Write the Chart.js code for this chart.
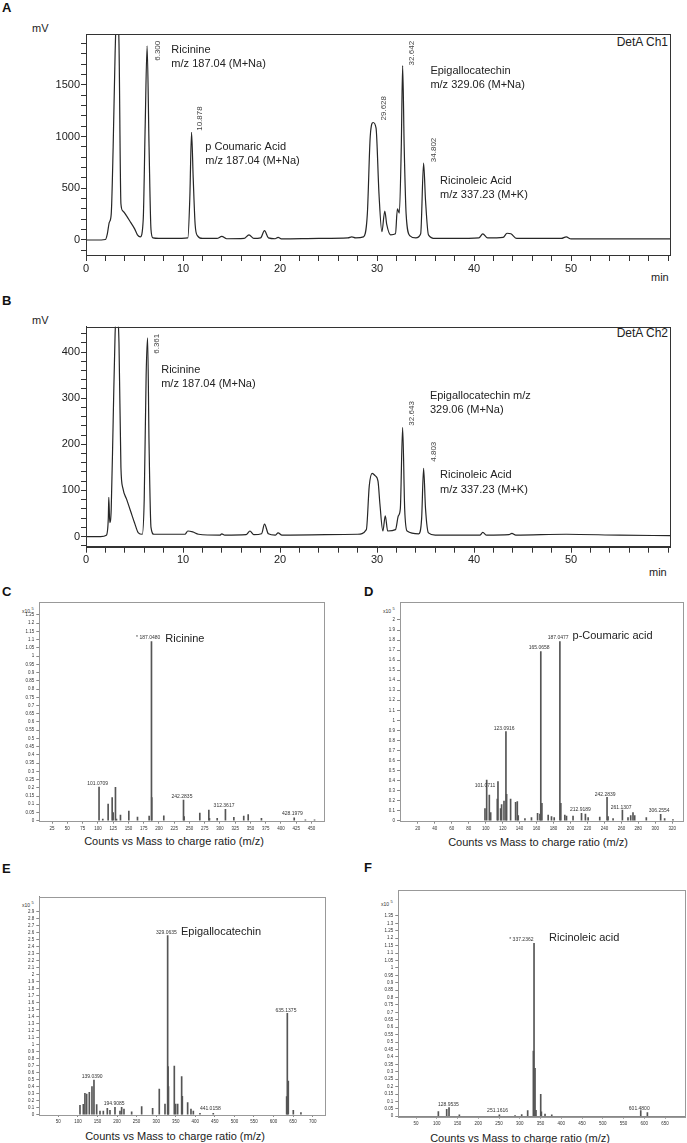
<!DOCTYPE html>
<html>
<head>
<meta charset="utf-8">
<script src="https://cdn.jsdelivr.net/npm/chart.js@4.4.1/dist/chart.umd.min.js"></script>
<style>
body { margin: 0; background: #fff; width: 687px; height: 1143px; position: relative; overflow: hidden;
  font-family: "Liberation Sans", Arial, sans-serif; color: #222; }
.box { position: absolute; }
.t { position: absolute; white-space: nowrap; line-height: 1; }
.lt { font-size: 13px; font-weight: bold; color: #111; }
.ax { font-size: 11px; }
.cap { font-size: 11px; width: 200px; text-align: center; }
.x10 { font-size: 5px; color: #333; }
.x10 sup { font-size: 4px; }
</style>
</head>
<body>

<div class="t lt" style="left:2px;top:1px">A</div>
<div class="t lt" style="left:2px;top:294px">B</div>
<div class="t lt" style="left:2px;top:585px">C</div>
<div class="t lt" style="left:364px;top:585px">D</div>
<div class="t lt" style="left:2px;top:862px">E</div>
<div class="t lt" style="left:364px;top:861px">F</div>

<div class="t ax" style="left:32px;top:23px">mV</div>
<div class="t ax" style="left:651px;top:272px">min</div>
<div class="t" style="right:19px;top:36px;font-size:12px">DetA Ch1</div>
<div class="t ax" style="left:32px;top:315px">mV</div>
<div class="t ax" style="left:649px;top:567px">min</div>
<div class="t" style="right:19px;top:327px;font-size:12px">DetA Ch2</div>

<div class="t x10" style="left:22px;top:607px">x10 <sup>5</sup></div>
<div class="t x10" style="left:383px;top:607px">x10 <sup>5</sup></div>
<div class="t x10" style="left:22px;top:901px">x10 <sup>5</sup></div>
<div class="t x10" style="left:381px;top:900px">x10 <sup>5</sup></div>

<div class="t cap" style="left:74px;top:836px">Counts vs Mass to charge ratio (m/z)</div>
<div class="t cap" style="left:438px;top:837px">Counts vs Mass to charge ratio (m/z)</div>
<div class="t cap" style="left:75px;top:1131px">Counts vs Mass to charge ratio (m/z)</div>
<div class="t cap" style="left:420px;top:1133px">Counts vs Mass to charge ratio (m/z)</div>

<div class="box" style="left:0;top:20px;width:687px;height:275px"><canvas id="chromA"></canvas></div>
<div class="box" style="left:0;top:312px;width:687px;height:275px"><canvas id="chromB"></canvas></div>
<div class="box" style="left:0;top:596px;width:340px;height:240px"><canvas id="msC"></canvas></div>
<div class="box" style="left:345px;top:596px;width:342px;height:240px"><canvas id="msD"></canvas></div>
<div class="box" style="left:0;top:885px;width:340px;height:244px"><canvas id="msE"></canvas></div>
<div class="box" style="left:345px;top:880px;width:342px;height:249px"><canvas id="msF"></canvas></div>

<script>
// ---- chromatogram A (DetA Ch1): retention time (min) / signal (mV)
var timeA = [0, 1.0, 2.0, 2.2, 2.4, 2.6, 2.8, 3.0, 3.2, 3.4, 3.6, 3.8, 4.2, 4.6, 5.0, 5.3, 5.6, 5.9, 6.1, 6.3, 6.5, 6.7, 6.9,
  7.5, 9, 10.5, 10.7, 10.88, 11.05, 11.25, 11.5, 12, 13.5, 14, 14.5, 16.3, 16.8, 17.3, 18.0, 18.4, 18.8, 19.5, 19.8, 20.2,
  24, 27.0, 27.4, 27.8, 28.6, 29.0, 29.3, 29.6, 29.9, 30.2, 30.5, 30.8, 31.0, 31.4, 31.9, 32.1, 32.3, 32.5, 32.64, 32.8,
  33.0, 33.4, 34.0, 34.5, 34.8, 35.0, 35.3, 36, 38, 40.5, 40.9, 41.4, 43.0, 43.4, 43.8, 44.4, 49.0, 49.5, 50.0, 55, 60.2];
var mvA = [0, 0, 5, 60, 170, 250, 900, 1800, 2300, 1900, 350, 280, 230, 170, 110, 50, 30, 200, 1100, 1875, 900, 100, 20,
  15, 15, 20, 400, 1040, 600, 150, 40, 15, 15, 35, 12, 15, 50, 15, 20, 90, 20, 12, 25, 10,
  15, 20, 30, 20, 30, 250, 1000, 1135, 1080, 450, 80, 280, 150, 50, 60, 300, 260, 900, 1685, 900,
  250, 40, 20, 60, 742, 380, 50, 15, 15, 20, 60, 20, 25, 65, 60, 15, 15, 30, 10, 10, 10];

// ---- chromatogram B (DetA Ch2)
var timeB = [0, 1.5, 2.1, 2.3, 2.35, 2.45, 2.6, 2.8, 3.0, 3.2, 3.4, 3.6, 3.8, 4.2, 4.6, 5.0, 5.4, 5.8, 6.0, 6.2, 6.35, 6.5,
  6.7, 7.0, 10.2, 10.5, 11.0, 11.6, 13.8, 14.0, 14.3, 16.5, 16.9, 17.3, 18.1, 18.4, 18.8, 19.5, 19.8, 20.2, 28.0, 28.9,
  29.2, 29.5, 29.8, 30.1, 30.3, 30.6, 30.85, 31.1, 31.9, 32.2, 32.4, 32.64, 32.85, 33.1, 34.3, 34.6, 34.8, 35.0, 35.3,
  36, 40.6, 40.9, 41.3, 43.6, 43.9, 44.3, 49.5, 55, 60.2];
var mvB = [0, 0, 3, 40, 85, 30, 60, 250, 440, 480, 420, 150, 105, 80, 55, 30, 8, 5, 80, 350, 431, 200,
  20, 5, 5, 12, 10, 5, 3, 6, 3, 4, 12, 4, 6, 27, 6, 3, 8, 3, 5, 15,
  110, 137, 132, 120, 70, 12, 45, 12, 15, 45, 60, 237, 60, 12, 6, 40, 148, 60, 8,
  3, 3, 9, 3, 4, 7, 3, 5, 3, 2];

// compound notes: name, second line, time, mV ; retention labels: text, time, mV
var compA = [['Ricinine', 'm/z 187.04 (M+Na)', 8.8, 1837], ['p Coumaric Acid', 'm/z 187.04 (M+Na)', 12.3, 902],
  ['Epigallocatechin', 'm/z 329.06 (M+Na)', 35.5, 1634], ['Ricinoleic Acid', 'm/z 337.23 (M+K)', 36.5, 573]];
var rtA = [['6.300', 7.43, 1828], ['10.878', 11.75, 1173], ['29.628', 30.68, 1273], ['32.642', 33.63, 1805], ['34.802', 35.84, 870]];
var compB = [['Ricinine', 'm/z 187.04 (M+Na)', 7.75, 362], ['Epigallocatechin m/z', '329.06 (M+Na)', 35.45, 305],
  ['Ricinoleic Acid', 'm/z 337.23 (M+K)', 36.5, 133.5]];
var rtB = [['6.361', 7.33, 418], ['32.643', 33.63, 267], ['4.803', 35.84, 184]];

// ---- mass spectra (m/z, counts x10^5)
var mzC = [101.9, 108, 116.8, 123.4, 125, 128.8, 130.5, 137, 150.7, 164.9, 184, 187.8, 188.3, 208, 240.3, 241.3, 267,
  281.8, 282.8, 295.5, 309, 322.8, 339, 346.3, 368, 421.7, 440, 455];
var intC = [0.205, 0.01, 0.101, 0.14, 0.05, 0.203, 0.01, 0.034, 0.059, 0.022, 0.028, 1.088, 0.14, 0.03, 0.126, 0.025, 0.047,
  0.065, 0.015, 0.014, 0.069, 0.02, 0.028, 0.038, 0.014, 0.018, 0.005, 0.005];
var labC = [['101.0709', 99.6, 0.225], ['* 187.0480', 182.4, 1.114], ['242.2835', 237.8, 0.146], ['312.3617', 306.7, 0.089], ['428.1979', 418.7, 0.041]];
var nameC = ['Ricinine', 210.5, 1.102];

var mzD = [99.2, 101.2, 104.3, 105.9, 113.7, 114.5, 117.6, 118.8, 121.6, 123.9, 124.7, 129.4, 135.3, 137.3, 138.4, 146.3,
  154, 161.2, 164, 165, 166.3, 173.7, 177.6, 180.8, 187.5, 188.6, 193.3, 195.3, 203, 213, 217.6, 220.8, 234.5, 243.1,
  244.3, 250.2, 261.2, 267.8, 271, 273.7, 275.7, 289.4, 306.3, 311, 320.8];
var intD = [0.12, 0.405, 0.256, 0.08, 0.216, 0.389, 0.12, 0.16, 0.196, 0.887, 0.262, 0.216, 0.183, 0.19, 0.05, 0.02,
  0.03, 0.073, 0.066, 1.684, 0.173, 0.056, 0.04, 0.03, 1.784, 0.173, 0.056, 0.045, 0.045, 0.073, 0.066, 0.03, 0.035, 0.232,
  0.04, 0.02, 0.106, 0.03, 0.05, 0.08, 0.05, 0.03, 0.063, 0.02, 0.01];
var labD = [['101.0711', 99.2, 0.346], ['123.0916', 121.8, 0.92], ['165.0658', 163.1, 1.728], ['187.0477', 185.5, 1.824],
  ['212.9189', 211.6, 0.106], ['242.2839', 240.8, 0.262], ['261.1307', 259.8, 0.133], ['306.2554', 304.5, 0.096]];
var nameD = ['p-Coumaric acid', 202.4, 1.84];

var mzE = [105.4, 113.9, 118, 122.4, 129.2, 136, 141.1, 148, 156.5, 165, 175.2, 182, 194.8, 207.6, 211.8, 217.8, 237.4,
  263, 291, 308, 322.6, 329.4, 330.5, 331.5, 346.4, 349.8, 355, 365.2, 366.9, 380.5, 389, 395, 412, 446, 633.5, 635.2,
  637.7, 650.5, 670];
var intE = [0.133, 0.148, 0.305, 0.295, 0.319, 0.4, 0.495, 0.143, 0.05, 0.05, 0.09, 0.06, 0.105, 0.05, 0.105, 0.08, 0.04,
  0.114, 0.09, 0.367, 0.15, 2.557, 0.686, 0.4, 0.695, 0.15, 0.15, 0.543, 0.26, 0.171, 0.08, 0.05, 0.02, 0.02, 0.257, 1.448,
  0.48, 0.06, 0.03];
var labE = [['139.0390', 136.5, 0.543], ['194.9085', 192.7, 0.157], ['329.0635', 326, 2.605], ['441.0158', 438.4, 0.086], ['635.1375', 631.8, 1.486]];
var nameE = ['Epigallocatechin', 363.5, 2.605];

var mzF = [103.8, 123.9, 129.5, 154.4, 250.8, 288.6, 304.6, 319, 332.7, 334.3, 336.7, 339, 350.4, 352, 360.8, 377, 591.4, 607.4];
var intF = [0.031, 0.047, 0.058, 0.01, 0.01, 0.005, 0.012, 0.038, 0.44, 1.166, 0.323, 0.04, 0.148, 0.03, 0.015, 0.01, 0.038, 0.025];
var labF = [['128.9535', 127.9, 0.076], ['251.1616', 246.4, 0.038], ['* 337.2362', 303.8, 1.188], ['601.4800', 587.8, 0.054]];
var nameF = ['Ricinoleic acid', 370.5, 1.2];

var FAM = '"Liberation Sans", Arial, sans-serif';
Chart.defaults.font.family = FAM;
Chart.defaults.color = '#222';
Chart.defaults.animation = false;

function steps(a, b, s) {
  var out = [], n = Math.round((b - a) / s);
  for (var i = 0; i <= n; i++) out.push({value: Math.round((a + i * s) * 1000) / 1000});
  return out;
}

function framePlugin(color) {
  return {
    id: 'frame',
    afterDraw: function(chart) {
      var a = chart.chartArea, ctx = chart.ctx;
      ctx.save();
      ctx.strokeStyle = color;
      ctx.lineWidth = 1;
      ctx.strokeRect(Math.round(a.left) + 0.5, Math.round(a.top) + 0.5, Math.round(a.right - a.left), Math.round(a.bottom - a.top));
      ctx.restore();
    }
  };
}

function notesPlugin(items) {
  return {
    id: 'notes',
    afterDatasetsDraw: function(chart) {
      var ctx = chart.ctx, xs = chart.scales.x, ys = chart.scales.y;
      items.forEach(function(n) {
        ctx.save();
        ctx.font = n.font;
        ctx.fillStyle = n.color || '#222';
        ctx.textAlign = n.align || 'left';
        ctx.textBaseline = 'middle';
        ctx.translate(xs.getPixelForValue(n.x), ys.getPixelForValue(n.y));
        if (n.rot) ctx.rotate(-Math.PI / 2);
        n.lines.forEach(function(s, i) { ctx.fillText(s, 0, i * (n.lh || 0)); });
        ctx.restore();
      });
    }
  };
}

function chromNotes(comp, rt) {
  var out = comp.map(function(c) {
    return {x: c[2], y: c[3], lines: [c[0], c[1]], font: '11px ' + FAM, lh: 14.5};
  });
  rt.forEach(function(r) {
    out.push({x: r[1], y: r[2], lines: [r[0]], font: '8px ' + FAM, rot: true, align: 'center', color: '#444'});
  });
  return out;
}

function chromChart(id, t, v, o) {
  var pts = t.map(function(x, i) { return {x: x, y: v[i]}; });
  new Chart(document.getElementById(id), {
    type: 'line',
    data: {datasets: [{data: pts, borderColor: '#262626', borderWidth: 1.2, pointRadius: 0, cubicInterpolationMode: 'monotone'}]},
    options: {
      responsive: true, maintainAspectRatio: false,
      layout: {padding: {top: o.padTop, right: 17, left: 0, bottom: 0}},
      plugins: {legend: {display: false}, tooltip: {enabled: false}},
      scales: {
        x: {
          type: 'linear', min: 0, max: 60.2,
          afterBuildTicks: function(s) { s.ticks = steps(0, 60, 2); },
          afterFit: function(s) { s.height = o.xH; },
          grid: {drawOnChartArea: false, tickLength: 6, color: '#333'},
          border: {color: '#333'},
          ticks: {autoSkip: false, maxRotation: 0, padding: 1, font: {size: 11}, color: '#222',
            callback: function(val) { return (val % 10 === 0 && val < 60) ? val : ''; }}
        },
        y: {
          min: o.ymin, max: o.ymax,
          afterBuildTicks: function(s) { s.ticks = steps(o.t0, o.t1, o.minor); },
          afterFit: function(s) { s.width = 86; },
          grid: {drawOnChartArea: false, tickLength: 5, color: '#333'},
          border: {color: '#333'},
          ticks: {autoSkip: false, padding: 1, font: {size: 11}, color: '#222',
            callback: function(val) { return val % o.major === 0 ? val : ''; }}
        }
      }
    },
    plugins: [framePlugin('#333'), notesPlugin(o.notes)]
  });
}

function msNotes(lab, name) {
  var out = lab.map(function(l) {
    return {x: l[1], y: l[2], lines: [l[0]], font: '5px ' + FAM, align: 'center', color: '#333'};
  });
  out.push({x: name[1], y: name[2], lines: [name[0]], font: '11px ' + FAM, color: '#222'});
  return out;
}

function msChart(id, mz, inten, o) {
  var pts = mz.map(function(m, i) { return {x: m, y: inten[i]}; });
  new Chart(document.getElementById(id), {
    type: 'bar',
    data: {datasets: [{data: pts, backgroundColor: '#555', barThickness: 1, grouped: false}]},
    options: {
      responsive: true, maintainAspectRatio: false,
      layout: {padding: {top: o.padTop, right: o.padRight, left: 0, bottom: 0}},
      plugins: {legend: {display: false}, tooltip: {enabled: false}},
      scales: {
        x: {
          type: 'linear', offset: false, min: o.xmin, max: o.xmax,
          afterBuildTicks: function(s) { s.ticks = steps(o.xt0, o.xt1, o.xs); },
          afterFit: function(s) { s.height = o.xH; },
          grid: {offset: false, drawOnChartArea: false, tickLength: 2, color: '#888'},
          border: {color: '#888'},
          ticks: {autoSkip: false, maxRotation: 0, padding: 2, font: {size: 4.5}, color: '#333'}
        },
        y: {
          min: o.ymin, max: o.ymax,
          afterBuildTicks: function(s) { s.ticks = steps(0, o.yt1, o.ys); },
          afterFit: function(s) { s.width = o.yW; },
          grid: {drawOnChartArea: false, tickLength: 3, color: '#888'},
          border: {color: '#888'},
          ticks: {autoSkip: false, padding: 2, font: {size: 4.5}, color: '#333',
            callback: function(val) { return String(+val.toFixed(2)); }}
        }
      }
    },
    plugins: [framePlugin('#999'), notesPlugin(o.notes)]
  });
}

chromChart('chromA', timeA, mvA, {padTop: 14, xH: 40, ymin: -145, ymax: 1990, t0: -100, t1: 1900, minor: 100, major: 500,
  notes: chromNotes(compA, rtA)});
chromChart('chromB', timeB, mvB, {padTop: 14.7, xH: 40.3, ymin: -22, ymax: 455, t0: -20, t1: 440, minor: 20, major: 100,
  notes: chromNotes(compB, rtB)});

msChart('msC', mzC, intC, {padTop: 6.3, padRight: 15.7, xH: 14.3, yW: 39.3, xmin: 4, xmax: 471, xt0: 25, xt1: 450, xs: 25,
  ymin: -0.006, ymax: 1.327, yt1: 1.25, ys: 0.05, notes: msNotes(labC, nameC)});
msChart('msD', mzD, intD, {padTop: 6.3, padRight: 3.7, xH: 14.3, yW: 55, xmin: -1, xmax: 333, xt0: 20, xt1: 320, xs: 20,
  ymin: -0.01, ymax: 2.176, yt1: 2, ys: 0.1, notes: msNotes(labD, nameD)});
msChart('msE', mzE, intE, {padTop: 11.7, padRight: 15, xH: 14, yW: 39.3, xmin: 1.4, xmax: 731.5, xt0: 50, xt1: 700, xs: 50,
  ymin: -0.005, ymax: 3.114, yt1: 2.9, ys: 0.1, notes: msNotes(labE, nameE)});
msChart('msF', mzF, intF, {padTop: 10, padRight: 2, xH: 12.3, yW: 53.3, xmin: 7.3, xmax: 698, xt0: 50, xt1: 650, xs: 50,
  ymin: -0.003, ymax: 1.525, yt1: 1.35, ys: 0.05, notes: msNotes(labF, nameF)});
</script>
</body>
</html>
